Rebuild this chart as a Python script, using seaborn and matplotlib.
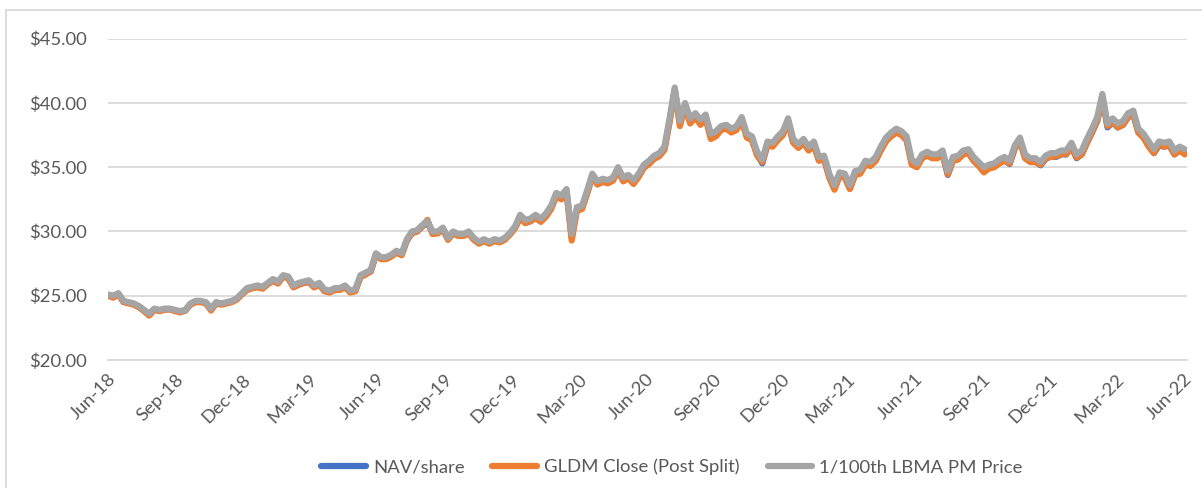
import numpy as np
import pandas as pd
import matplotlib
matplotlib.use("Agg")
import matplotlib.pyplot as plt
import matplotlib.dates as mdates
from matplotlib.ticker import StrMethodFormatter
from matplotlib.patches import Rectangle
from matplotlib.lines import Line2D
import seaborn as sns

sns.set_style("white")
plt.rcParams["font.family"] = ["Lato", "DejaVu Sans"]

# weekly closes, 2018-06-26 .. 2022-06-28
lbma_pm = [
    # 2018
    25.1, 25.0, 25.2, 24.6, 24.5, 24.4, 24.2, 23.9, 23.6, 24.0, 23.9, 24.0, 24.0, 23.9,
    23.8, 23.9, 24.4, 24.6, 24.6, 24.5, 24.0, 24.5, 24.4, 24.5, 24.6, 24.8, 25.2,
    # 2019
    25.6, 25.7, 25.8, 25.7, 26.0, 26.3, 26.1, 26.6, 26.5, 25.8, 26.0, 26.1, 26.2,
    25.8, 26.0, 25.5, 25.4, 25.6, 25.6, 25.8, 25.4, 25.5, 26.6, 26.8, 27.0, 28.3,
    28.0, 28.0, 28.2, 28.5, 28.3, 29.4, 30.0, 30.1, 30.5, 30.8, 30.0, 30.0, 30.3,
    29.5, 30.0, 29.8, 29.8, 30.0, 29.5, 29.2, 29.4, 29.2, 29.4, 29.3, 29.5, 29.9, 30.4,
    # 2020
    31.3, 30.9, 31.0, 31.3, 31.0, 31.4, 32.0, 33.0, 32.8, 33.3, 29.8, 31.9, 32.0,
    33.2, 34.5, 33.9, 34.1, 34.0, 34.2, 35.0, 34.2, 34.4, 34.0, 34.5, 35.2, 35.5,
    35.9, 36.1, 36.6, 38.8, 41.2, 38.6, 40.0, 38.8, 39.2, 38.7, 39.1, 37.6, 37.8,
    38.2, 38.3, 38.0, 38.2, 38.9, 37.6, 37.4, 36.2, 35.6, 37.0, 36.9, 37.4, 37.8,
    # 2021
    38.8, 37.2, 36.8, 37.2, 36.6, 37.0, 35.8, 35.9, 34.5, 33.6, 34.6, 34.5, 33.6,
    34.7, 34.8, 35.5, 35.4, 35.8, 36.6, 37.3, 37.7, 38.0, 37.8, 37.4, 35.6, 35.3,
    36.0, 36.2, 36.0, 36.0, 36.3, 34.7, 35.8, 35.9, 36.3, 36.4, 35.8, 35.4, 35.0,
    35.2, 35.3, 35.6, 35.8, 35.5, 36.7, 37.3, 36.0, 35.7, 35.7, 35.4, 35.9, 36.1,
    # 2022
    36.1, 36.3, 36.3, 36.9, 36.0, 36.3, 37.2, 38.0, 38.9, 40.7, 38.4, 38.8, 38.4,
    38.6, 39.2, 39.4, 38.0, 37.6, 37.0, 36.4, 37.0, 36.9, 37.0, 36.3, 36.6, 36.4,
]

nav_share = [
    # 2018
    25.05, 24.95, 25.15, 24.55, 24.45, 24.35, 24.15, 23.85, 23.55, 23.95, 23.85, 23.95, 23.95, 23.85,
    23.75, 23.85, 24.35, 24.55, 24.55, 24.45, 23.95, 24.45, 24.35, 24.45, 24.55, 24.75, 25.15,
    # 2019
    25.5, 25.6, 25.7, 25.6, 25.9, 26.2, 26.0, 26.5, 26.4, 25.7, 25.9, 26.0, 26.1,
    25.7, 25.9, 25.4, 25.3, 25.5, 25.5, 25.7, 25.3, 25.4, 26.5, 26.7, 26.9, 28.2,
    27.9, 27.9, 28.1, 28.4, 28.2, 29.3, 29.9, 30.0, 30.4, 30.7, 29.9, 29.9, 30.2,
    29.4, 29.9, 29.7, 29.7, 29.9, 29.4, 29.1, 29.3, 29.1, 29.3, 29.2, 29.4, 29.8, 30.3,
    # 2020
    31.1, 30.7, 30.8, 31.1, 30.8, 31.2, 31.8, 32.8, 32.6, 33.1, 29.6, 31.7, 31.8,
    33.0, 34.3, 33.7, 33.9, 33.8, 34.0, 34.8, 34.0, 34.2, 33.8, 34.3, 35.0, 35.3,
    35.7, 35.9, 36.4, 38.6, 41.0, 38.4, 39.8, 38.6, 39.0, 38.5, 38.9, 37.4, 37.6,
    38.0, 38.1, 37.8, 38.0, 38.7, 37.4, 37.2, 36.0, 35.3, 36.8, 36.7, 37.2, 37.6,
    # 2021
    38.55, 36.95, 36.55, 36.95, 36.35, 36.75, 35.55, 35.65, 34.25, 33.35, 34.35, 34.25, 33.35,
    34.45, 34.55, 35.25, 35.15, 35.55, 36.35, 37.05, 37.45, 37.75, 37.55, 37.15, 35.35, 35.05,
    35.75, 35.95, 35.75, 35.75, 36.05, 34.4, 35.55, 35.65, 36.05, 36.15, 35.55, 35.15, 34.75,
    34.95, 35.05, 35.35, 35.55, 35.25, 36.45, 37.05, 35.75, 35.45, 35.45, 35.15, 35.65, 35.85,
    # 2022
    35.8, 36.0, 36.0, 36.6, 35.7, 36.0, 36.9, 37.7, 38.6, 40.4, 38.1, 38.5, 38.1,
    38.3, 38.9, 39.1, 37.7, 37.3, 36.7, 36.1, 36.7, 36.6, 36.7, 36.0, 36.3, 36.1,
]

gldm_close = [
    # 2018
    25.0, 24.85, 25.1, 24.5, 24.4, 24.3, 24.1, 23.8, 23.45, 23.9, 23.8, 23.9, 23.95, 23.8,
    23.7, 23.85, 24.3, 24.5, 24.5, 24.4, 23.85, 24.4, 24.3, 24.4, 24.5, 24.7, 25.1,
    # 2019
    25.45, 25.6, 25.65, 25.55, 25.9, 26.15, 25.95, 26.5, 26.35, 25.65, 25.85, 26.0, 26.05,
    25.65, 25.85, 25.35, 25.25, 25.45, 25.45, 25.65, 25.25, 25.35, 26.45, 26.65, 26.9, 28.15,
    27.85, 27.85, 28.05, 28.35, 28.15, 29.3, 29.85, 30.0, 30.4, 30.9, 29.8, 29.85, 30.15,
    29.35, 29.85, 29.65, 29.65, 29.85, 29.35, 29.05, 29.25, 29.05, 29.25, 29.15, 29.35, 29.75, 30.25,
    # 2020
    31.05, 30.65, 30.8, 31.05, 30.75, 31.15, 31.75, 32.75, 32.5, 33.05, 29.3, 31.6, 31.75,
    32.95, 34.3, 33.65, 33.85, 33.75, 33.95, 34.8, 33.9, 34.15, 33.7, 34.25, 34.95, 35.25,
    35.65, 35.85, 36.35, 38.5, 41.0, 38.2, 39.7, 38.4, 38.9, 38.3, 38.8, 37.2, 37.4,
    37.9, 38.0, 37.7, 37.9, 38.6, 37.3, 37.1, 35.9, 35.4, 36.7, 36.6, 37.1, 37.5,
    # 2021
    38.5, 36.9, 36.5, 36.9, 36.3, 36.7, 35.5, 35.6, 34.2, 33.25, 34.3, 34.2, 33.3,
    34.4, 34.5, 35.2, 35.1, 35.5, 36.3, 37.0, 37.4, 37.7, 37.5, 37.1, 35.2, 35.0,
    35.7, 35.9, 35.7, 35.7, 36.0, 34.45, 35.5, 35.6, 36.0, 36.1, 35.5, 35.1, 34.6,
    34.9, 35.0, 35.3, 35.5, 35.3, 36.5, 37.0, 35.7, 35.4, 35.4, 35.2, 35.7, 35.8,
    # 2022
    35.85, 36.05, 36.0, 36.6, 35.75, 36.0, 36.9, 37.75, 38.6, 40.5, 38.2, 38.5, 38.1,
    38.3, 38.9, 39.2, 37.7, 37.3, 36.6, 36.1, 36.8, 36.6, 36.7, 36.0, 36.3, 36.0,
]

series_names = ["NAV/share", "GLDM Close (Post Split)", "1/100th LBMA PM Price"]
colors = ["#4472C4", "#ED7D31", "#A5A5A5"]
y_ticks = [20, 25, 30, 35, 40, 45]

dates = pd.date_range("2018-06-26", periods=len(lbma_pm), freq="7D")

df = pd.concat([
    pd.DataFrame({"date": dates, "price": vals, "series": name})
    for name, vals in zip(series_names, [nav_share, gldm_close, lbma_pm])
])

text_col = "#595959"
grid_col = "#D9D9D9"
fs = 13.3

fig = plt.figure(figsize=(12.02, 4.88), dpi=100)
ax = fig.add_axes([108 / 1202, 1 - 360 / 488, (1187 - 108) / 1202, (360 - 38.7) / 488])

sns.lineplot(data=df, x="date", y="price", hue="series", hue_order=series_names,
             palette=dict(zip(series_names, colors)), linewidth=4.5, legend=False, ax=ax)

# 軸
ax.set_ylim(20, 45)
ax.set_yticks(y_ticks)
ax.yaxis.set_major_formatter(StrMethodFormatter("${x:.2f}"))
ax.set_xlim(pd.Timestamp("2018-06-26"), pd.Timestamp("2022-07-01"))
ax.set_xticks(pd.date_range("2018-06-26", "2022-06-26", freq=pd.DateOffset(months=3)))
ax.xaxis.set_major_formatter(mdates.DateFormatter("%b-%y"))
ax.set_xlabel("")
ax.set_ylabel("")
ax.grid(axis="y", color=grid_col, linewidth=1.3)
ax.set_axisbelow(True)
for side in ["top", "right", "left"]:
    ax.spines[side].set_visible(False)
ax.spines["bottom"].set_color(grid_col)
ax.spines["bottom"].set_linewidth(1.3)
ax.tick_params(axis="y", length=0, pad=15, labelsize=fs, labelcolor=text_col)
ax.tick_params(axis="x", length=6, width=1.3, color=grid_col, pad=2, labelsize=fs, labelcolor=text_col)
plt.setp(ax.get_xticklabels(), rotation=45, ha="right", rotation_mode="anchor")

# 凡例
handles = [Line2D([], [], color=c, linewidth=4.5, solid_capstyle="round") for c in colors]
fig.legend(handles, series_names, loc="center", bbox_to_anchor=(672 / 1202, 1 - 467 / 488), ncol=3,
           frameon=False, fontsize=fs, labelcolor=text_col, handlelength=2.4,
           handletextpad=0.4, columnspacing=1.5)

# chart area border
fig.patches.append(Rectangle((6 / 1202, -0.1), 1.2, 1 - 10 / 488 + 0.1, transform=fig.transFigure,
                             fill=False, edgecolor=grid_col, linewidth=1.3))

fig.savefig("out.png", dpi=100)
